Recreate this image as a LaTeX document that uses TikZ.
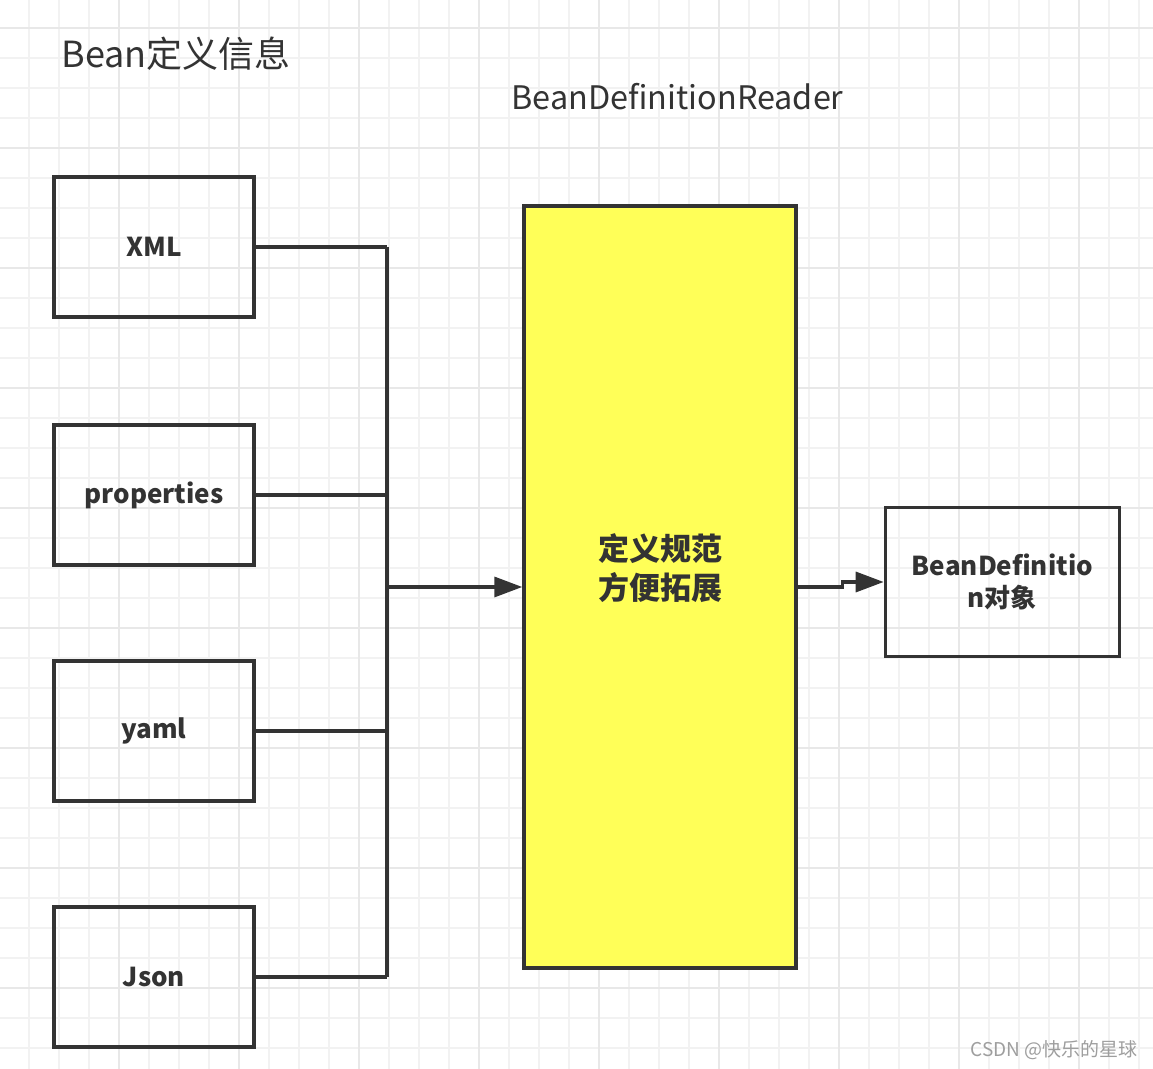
\documentclass[tikz,border=0pt]{standalone}
\usepackage{fontspec}
\setmainfont{Noto Sans CJK SC}
\usepackage{tikz}
\usetikzlibrary{arrows.meta, positioning}
\definecolor{linegray}{HTML}{333333}
\definecolor{readeryellow}{HTML}{FFFF58}
\definecolor{minorgrid}{HTML}{F2F2F2}
\definecolor{majorgrid}{HTML}{E8E8E8}
\tikzset{
    source/.style={draw=linegray, rectangle, line width=1.7pt, minimum width=100pt, minimum height=70pt, align=center, font=\fontsize{13pt}{16pt}\selectfont\bfseries, text=linegray},
    reader/.style={draw=linegray, rectangle, line width=1.7pt, fill=readeryellow, minimum width=136pt, minimum height=381pt, align=center, text depth=20pt, font=\fontsize{15.5pt}{19.5pt}\selectfont\bfseries, text=linegray},
    result/.style={draw=linegray, rectangle, line width=1.7pt, minimum width=117pt, minimum height=74.5pt, align=center, font=\fontsize{13pt}{16pt}\selectfont\bfseries, text=linegray},
    title/.style={font=\fontsize{18pt}{20pt}\selectfont, text=linegray, inner sep=0pt, anchor=west},
    line/.style={draw=linegray, line width=1.7pt},
    arrow/.style={line, -{Triangle[length=14pt,width=10pt]}}
}

\begin{document}
\begin{tikzpicture}[x=0.5pt, y=-0.5pt]
        \useasboundingbox (0,0) rectangle (1153,1069);
        \fill[white] (0,0) rectangle (1153,1069);

        % Grid
        \foreach \gx in {29,59,...,1153} \draw[minorgrid, line width=1pt] (\gx,0) -- (\gx,1069);
        \foreach \gy in {28,58,...,1069} \draw[minorgrid, line width=1pt] (0,\gy) -- (1153,\gy);
        \foreach \gx in {119,239,...,1153} \draw[majorgrid, line width=1pt] (\gx,0) -- (\gx,1069);
        \foreach \gy in {28,148,...,1069} \draw[majorgrid, line width=1pt] (0,\gy) -- (1153,\gy);

        % Titoli
        \node (beaninfo) [title] at (61,54) {Bean定义信息};
        \node (readername) [title, font=\fontsize{16.2pt}{18pt}\selectfont] at (511,97) {BeanDefinitionReader};

        % Sorgenti
        \node (xml) [source] at (154,247) {XML};
        \node (props) [source] at (154,495) {properties};
        \node (yaml) [source] at (154,731) {yaml};
        \node (json) [source] at (154,977) {Json};

        % Reader e risultato
        \node (reader) [reader] at (660,587) {定义规范\\方便拓展};
        \node (bdef) [result, right=43pt of reader, yshift=2.5pt] {BeanDefinitio\\n对象};

        % Connessioni
        \coordinate (bus) at (387,587);
        \draw [line] (xml.east) -- (bus |- xml.east);
        \draw [line] (props.east) -- (bus |- props.east);
        \draw [line] (yaml.east) -- (bus |- yaml.east);
        \draw [line] (json.east) -- (bus |- json.east);
        \draw [line] (bus |- xml.east) -- (bus |- json.east);
        \draw [arrow] (bus) -- (reader.west);
        \draw [arrow] (reader.east) -- ++(45,0) |- (bdef.west);

        % Watermark
        \node (mark) [font=\fontsize{9.5pt}{11pt}\selectfont, text=black!38, anchor=east, inner sep=0pt] at (1138,1050) {CSDN @快乐的星球};

    \end{tikzpicture}
\end{document}
